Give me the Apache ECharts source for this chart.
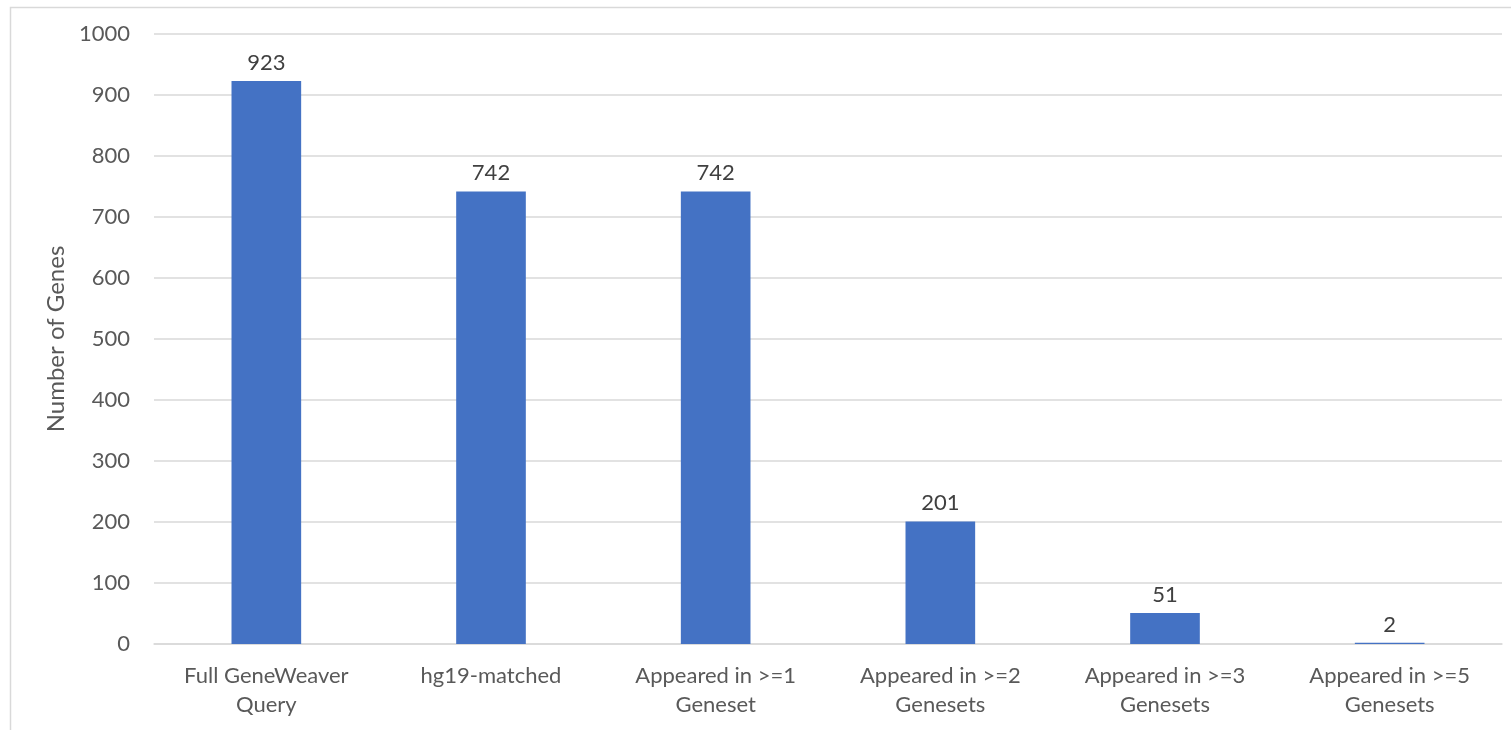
<!DOCTYPE html>
<html>
<head>
<meta charset="utf-8">
<script src="https://cdn.jsdelivr.net/npm/echarts@6/dist/echarts.min.js"></script>
<style>
  html, body { margin: 0; padding: 0; background: #fff; }
  #chart { width: 1511px; height: 730px; }
</style>
</head>
<body>
<div id="chart"></div>
<script>
// Gene counts at each filtering step
const categories = [
  'Full GeneWeaver\nQuery',
  'hg19-matched',
  'Appeared in >=1\nGeneset',
  'Appeared in >=2\nGenesets',
  'Appeared in >=3\nGenesets',
  'Appeared in >=5\nGenesets'
];
const geneCounts = [923, 742, 742, 201, 51, 2];
const yAxisTitle = 'Number of Genes';

const FONT = 'Lato, "Open Sans", sans-serif';
const TEXT = '#595959';

const chart = echarts.init(document.getElementById('chart'));
chart.setOption({
  animation: false,
  backgroundColor: '#ffffff',
  graphic: [{
    type: 'rect',
    left: 8, top: 5,
    shape: { width: 1520, height: 740 },
    style: { fill: 'none', stroke: '#d9d9d9', lineWidth: 1.5 },
    silent: true
  }],
  grid: { left: 154, right: 9, top: 34, bottom: 86 },
  xAxis: {
    type: 'category',
    data: categories,
    axisLine: { lineStyle: { color: '#d9d9d9', width: 1.5 } },
    axisTick: { show: false },
    axisLabel: {
      color: TEXT, fontFamily: FONT, fontSize: 22,
      lineHeight: 29, margin: 17, interval: 0
    }
  },
  yAxis: {
    type: 'value',
    min: 0, max: 1000, interval: 100,
    name: yAxisTitle,
    nameLocation: 'middle',
    nameGap: 80,
    nameTextStyle: { color: TEXT, fontFamily: FONT, fontSize: 24 },
    axisLine: { show: false },
    axisTick: { show: false },
    axisLabel: {
      color: TEXT, fontFamily: FONT, fontSize: 22, margin: 24,
      formatter: (v) => String(v)
    },
    splitLine: { lineStyle: { color: '#d9d9d9', width: 1.5 } }
  },
  series: [{
    type: 'bar',
    data: geneCounts,
    barWidth: '31%',
    itemStyle: { color: '#4472C4' },
    label: {
      show: true, position: 'top', distance: 7,
      color: '#404040', fontFamily: FONT, fontSize: 22
    }
  }]
});
</script>
</body>
</html>
